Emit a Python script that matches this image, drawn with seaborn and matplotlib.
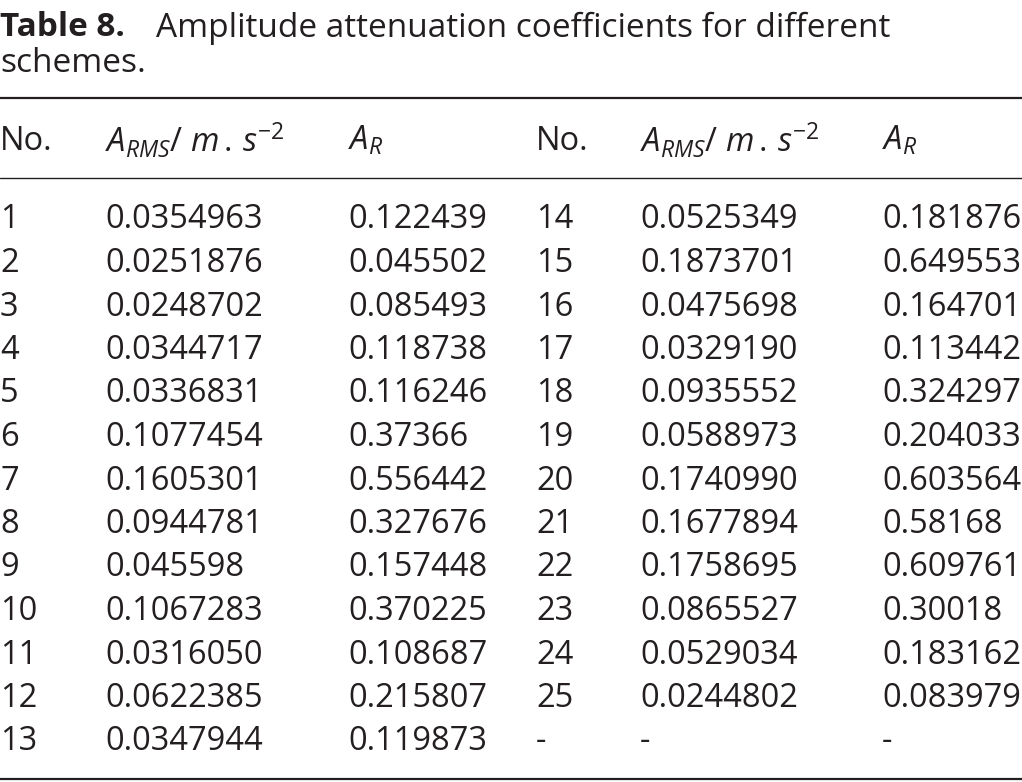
import matplotlib.pyplot as plt
import seaborn as sns

no_left = ["1", "2", "3", "4", "5", "6", "7", "8", "9", "10", "11", "12", "13"]
arms_left = ["0.0354963", "0.0251876", "0.0248702", "0.0344717", "0.0336831", "0.1077454",
             "0.1605301", "0.0944781", "0.045598", "0.1067283", "0.0316050", "0.0622385", "0.0347944"]
ar_left = ["0.122439", "0.045502", "0.085493", "0.118738", "0.116246", "0.37366",
           "0.556442", "0.327676", "0.157448", "0.370225", "0.108687", "0.215807", "0.119873"]
no_right = ["14", "15", "16", "17", "18", "19", "20", "21", "22", "23", "24", "25", "-"]
arms_right = ["0.0525349", "0.1873701", "0.0475698", "0.0329190", "0.0935552", "0.0588973",
              "0.1740990", "0.1677894", "0.1758695", "0.0865527", "0.0529034", "0.0244802", "-"]
ar_right = ["0.181876", "0.649553", "0.164701", "0.113442", "0.324297", "0.204033",
            "0.603564", "0.58168", "0.609761", "0.30018", "0.183162", "0.083979", "-"]
headers = ["No.", r"$A_{RMS}$/ $m\,.\,s^{-2}$", r"$A_R$",
           "No.", r"$A_{RMS}$/ $m\,.\,s^{-2}$", r"$A_R$"]

sns.set_theme(style="white")
plt.rcParams["font.family"] = ["Open Sans", "DejaVu Sans"]
plt.rcParams["mathtext.fontset"] = "custom"
plt.rcParams["mathtext.rm"] = "Open Sans"
plt.rcParams["mathtext.it"] = "Open Sans:italic"

fig = plt.figure(figsize=(10.22, 7.82), dpi=100)
ax = fig.add_axes([0, 0, 1, 1])
ax.set_xlim(0, 1022)
ax.set_ylim(782, 0)
ax.axis("off")

fs = 23.5
col_x = [0, 105, 348, 536, 640, 882]
ink = "#231f20"

ax.text(0, 28, "Table 8.", fontsize=24, weight="bold", va="center", color=ink)
ax.text(156, 28, "Amplitude attenuation coefficients for different", fontsize=24, va="center", color=ink)
ax.text(0, 64, "schemes.", fontsize=24, va="center", color=ink)

for y, lw in [(98, 1.6), (178, 1.0), (779, 1.6)]:
    ax.plot([0, 1022], [y, y], color=ink, lw=lw)

for x, h in zip(col_x, headers):
    ax.text(x, 141, h, fontsize=fs, va="center", color=ink)

columns = [no_left, arms_left, ar_left, no_right, arms_right, ar_right]
for x, col in zip(col_x, columns):
    for i, v in enumerate(col):
        ax.text(x, 220 + i * 43.5, v, fontsize=fs, va="center", color=ink)

fig.savefig("out.png", dpi=100)
